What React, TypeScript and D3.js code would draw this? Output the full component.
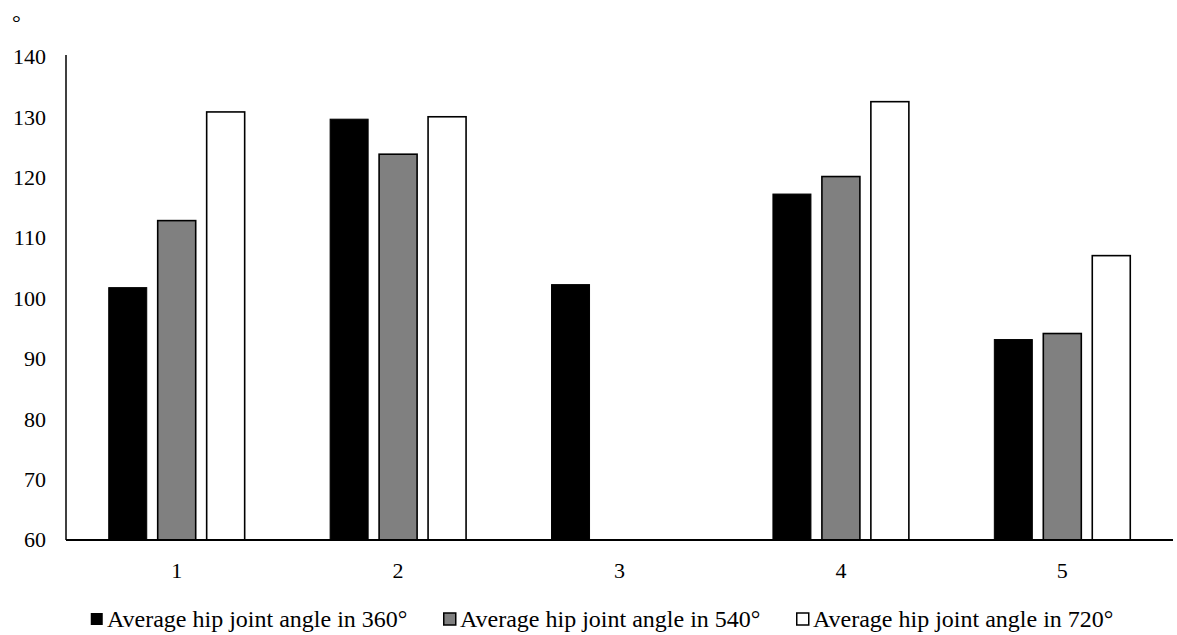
import React from "react";
import * as d3 from "d3";

// Hip joint angle (degrees) per subject, for three rotation amounts
const categories = ["1", "2", "3", "4", "5"];
const seriesNames = [
  "Average hip joint angle in 360°",
  "Average hip joint angle in 540°",
  "Average hip joint angle in 720°",
];
const angle360: (number | null)[] = [101.8, 129.7, 102.3, 117.3, 93.2];
const angle540: (number | null)[] = [112.9, 123.9, null, 120.2, 94.2];
const angle720: (number | null)[] = [130.9, 130.1, null, 132.6, 107.1];
const yTicks = [60, 70, 80, 90, 100, 110, 120, 130, 140];

const seriesValues = [angle360, angle540, angle720];
const fills = ["#000000", "#808080", "#ffffff"];
const strokeWidths = [1, 1.6, 1.6];

const W = 1177;
const H = 635;
const left = 66;
const right = 1173;
const top = 57;
const bottom = 540;
const font = "'Liberation Serif', 'Times New Roman', serif";

export default function App() {
  const x0 = d3
    .scaleBand<string>()
    .domain(categories)
    .range([left, right])
    .paddingInner(0.386)
    .paddingOuter(0.193);
  const x1 = d3
    .scaleBand<number>()
    .domain([0, 1, 2])
    .range([0, x0.bandwidth()])
    .paddingInner(0.224)
    .paddingOuter(0);
  const y = d3.scaleLinear().domain([60, 140]).range([bottom, top]);

  const legendX = [90, 443, 796];

  return (
    <div style={{ position: "absolute", left: 0, top: 0 }}>
      <svg width={W} height={H} style={{ display: "block", background: "#fff" }}>
        <text x={12} y={30} fontFamily={font} fontSize={22} fill="#000">
          °
        </text>

        {yTicks.map((t) => (
          <text
            key={t}
            x={46}
            y={y(t)}
            dy="0.33em"
            textAnchor="end"
            fontFamily={font}
            fontSize={22}
            fill="#000"
          >
            {t}
          </text>
        ))}

        {categories.map((c, ci) =>
          seriesValues.map((vals, si) => {
            const v = vals[ci];
            if (v == null) return null;
            const bx = (x0(c) as number) + (x1(si) as number);
            const by = y(v);
            return (
              <rect
                key={`${c}-${si}`}
                x={bx}
                y={by}
                width={x1.bandwidth()}
                height={bottom - by}
                fill={fills[si]}
                stroke="#000"
                strokeWidth={strokeWidths[si]}
              />
            );
          })
        )}

        <line x1={left} x2={left} y1={top - 2} y2={bottom} stroke="#000" strokeWidth={1.5} />
        <line x1={left} x2={right} y1={bottom} y2={bottom} stroke="#000" strokeWidth={2} />

        {categories.map((c) => (
          <text
            key={c}
            x={(x0(c) as number) + x0.bandwidth() / 2}
            y={570}
            dy="0.35em"
            textAnchor="middle"
            fontFamily={font}
            fontSize={22}
            fill="#000"
          >
            {c}
          </text>
        ))}

        {seriesNames.map((name, i) => (
          <g key={name} transform={`translate(${legendX[i]},619)`}>
            <rect
              x={0.75}
              y={-6}
              width={12}
              height={12}
              fill={fills[i]}
              stroke="#000"
              strokeWidth={i === 0 ? 0 : 1.5}
            />
            <text x={17} y={0} dy="0.35em" fontFamily={font} fontSize={24} fill="#000">
              {name}
            </text>
          </g>
        ))}
      </svg>
    </div>
  );
}
